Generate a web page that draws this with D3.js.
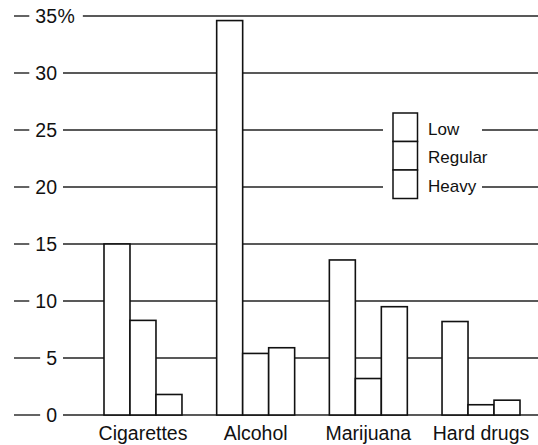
<!DOCTYPE html>
<html>
<head>
<meta charset="utf-8">
<script src="https://cdn.jsdelivr.net/npm/d3@7"></script>
<style>
  html, body { margin: 0; padding: 0; background: #fff; }
  svg { display: block; }
  text { font-family: "Liberation Sans", Arial, Helvetica, sans-serif; fill: #111; }
</style>
</head>
<body>
<svg id="chart" width="538" height="445"></svg>
<script>
const categories = ["Cigarettes", "Alcohol", "Marijuana", "Hard drugs"];
const seriesNames = ["Low", "Regular", "Heavy"];
const lowValues = [15, 34.6, 13.6, 8.2];
const regularValues = [8.3, 5.4, 3.2, 0.9];
const heavyValues = [1.8, 5.9, 9.5, 1.3];
const yTicks = [0, 5, 10, 15, 20, 25, 30, 35];

const seriesValues = { Low: lowValues, Regular: regularValues, Heavy: heavyValues };
const data = categories.map((c, i) => ({
  category: c,
  values: seriesNames.map(s => ({ series: s, value: seriesValues[s][i] }))
}));

const svg = d3.select("#chart");
const W = 538;

const y = d3.scaleLinear().domain([0, 35]).range([415, 16]);
const x0 = d3.scaleBand().domain(categories).range([104, 520]).paddingInner(0.308).paddingOuter(0);
const x1 = d3.scaleBand().domain(seriesNames).range([0, x0.bandwidth()]).padding(0);

// legend geometry
const legX = 393, legY = 113, legW = 24.5, legH = 28.5;
const legTop = legY, legBottom = legY + legH * seriesNames.length;
const gapX0 = 383, gapX1 = 482;

const labelRight = 57;
const tickFont = 19.5;

const axisG = svg.append("g");
yTicks.forEach(t => {
  const yy = y(t);
  const g = axisG.append("g");
  const txt = g.append("text")
    .attr("x", labelRight).attr("y", yy + 6.8)
    .attr("text-anchor", "end")
    .style("font-size", tickFont + "px")
    .text(t);
  const w = txt.node().getComputedTextLength();
  let labelEnd = labelRight;
  if (t === 35) {
    const pct = g.append("text")
      .attr("x", labelRight + 0.5).attr("y", yy + 6.8)
      .style("font-size", tickFont + "px")
      .text("%");
    labelEnd = labelRight + 0.5 + pct.node().getComputedTextLength();
  }
  const labelStart = labelRight - w;
  // leading dash
  g.append("line")
    .attr("x1", 14).attr("x2", labelStart - 6)
    .attr("y1", yy).attr("y2", yy)
    .attr("stroke", "#222").attr("stroke-width", 1.4);
  // gridline
  const gStart = t === 35 ? labelEnd + 8 : 63;
  const segs = (yy > legTop && yy < legBottom)
    ? [[gStart, gapX0], [gapX1, W]]
    : [[gStart, W]];
  segs.forEach(([a, b]) => {
    g.append("line")
      .attr("x1", a).attr("x2", b)
      .attr("y1", yy).attr("y2", yy)
      .attr("stroke", "#222").attr("stroke-width", 1.3);
  });
});

// bars
const groups = svg.append("g").selectAll("g.grp")
  .data(data).join("g")
  .attr("class", "grp")
  .attr("transform", d => `translate(${x0(d.category)},0)`);

groups.selectAll("rect")
  .data(d => d.values).join("rect")
  .attr("x", d => x1(d.series))
  .attr("y", d => y(d.value))
  .attr("width", x1.bandwidth())
  .attr("height", d => y(0) - y(d.value))
  .attr("fill", "#fff")
  .attr("stroke", "#111")
  .attr("stroke-width", 1.6);

// category labels
svg.append("g").selectAll("text")
  .data(categories).join("text")
  .attr("x", d => x0(d) + x0.bandwidth() / 2)
  .attr("y", 440)
  .attr("text-anchor", "middle")
  .style("font-size", "19.5px")
  .text(d => d);

// legend
const leg = svg.append("g");
seriesNames.forEach((s, i) => {
  leg.append("rect")
    .attr("x", legX).attr("y", legY + i * legH)
    .attr("width", legW).attr("height", legH)
    .attr("fill", "#fff").attr("stroke", "#111").attr("stroke-width", 1.5);
  leg.append("text")
    .attr("x", 428).attr("y", legY + i * legH + legH / 2 + 7.5)
    .style("font-size", "17px")
    .text(s);
});
</script>
</body>
</html>
